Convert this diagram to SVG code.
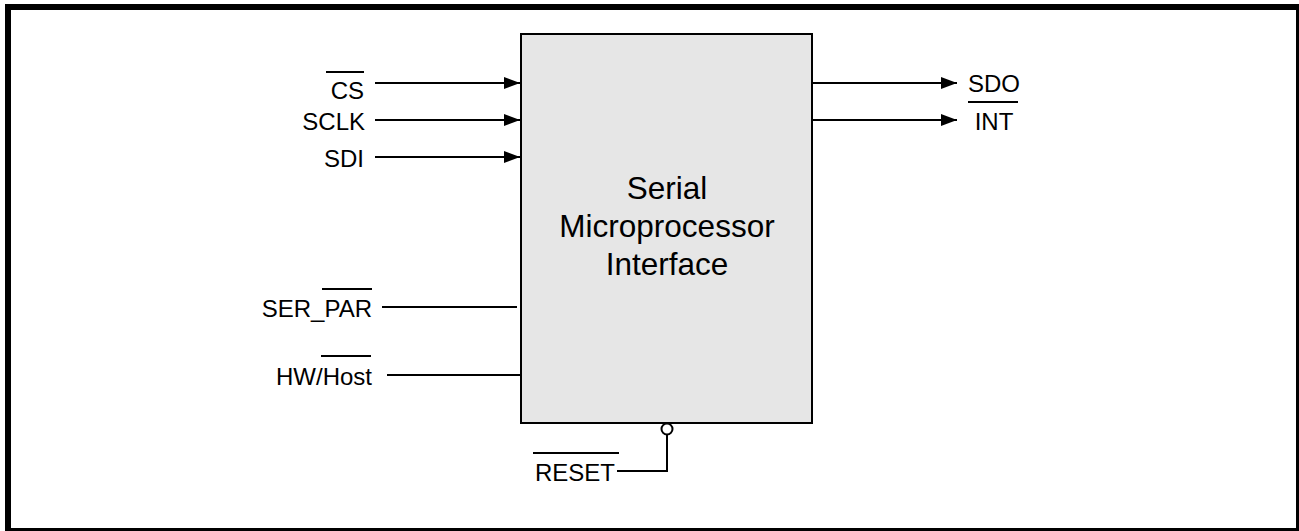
<svg xmlns="http://www.w3.org/2000/svg" width="1299" height="531" viewBox="0 0 1299 531">
<defs>
<style>
text{font-family:"Liberation Sans",Arial,sans-serif;font-size:24px;fill:#000}
.big{font-size:31.5px}
.w{stroke:#000;stroke-width:2;fill:none}
.ob{stroke:#000;stroke-width:2}
</style>
<marker id="ah" markerWidth="16" markerHeight="12" refX="16" refY="6" orient="auto" markerUnits="userSpaceOnUse">
<path d="M0,0 L16,6 L0,12 Z" fill="#000"/>
</marker>
</defs>
<rect width="1299" height="531" fill="#fff"/>
<rect x="8" y="7" width="1291" height="524" fill="none" stroke="#000" stroke-width="6"/>
<g id="block">
<rect x="521" y="34" width="291" height="389" fill="#e6e6e6" stroke="#000" stroke-width="2"/>
<text class="big" x="667" y="199" text-anchor="middle">Serial</text>
<text class="big" x="667" y="237" text-anchor="middle">Microprocessor</text>
<text class="big" x="667" y="275" text-anchor="middle">Interface</text>
</g>
<g id="connectors">
<line class="w" x1="375" y1="83" x2="520" y2="83" marker-end="url(#ah)"/>
<line class="w" x1="375" y1="120" x2="520" y2="120" marker-end="url(#ah)"/>
<line class="w" x1="375" y1="157" x2="520" y2="157" marker-end="url(#ah)"/>
<line class="w" x1="812" y1="83" x2="957" y2="83" marker-end="url(#ah)"/>
<line class="w" x1="812" y1="120" x2="957" y2="120" marker-end="url(#ah)"/>
<line class="w" x1="382" y1="307" x2="517" y2="307"/>
<line class="w" x1="387" y1="375" x2="521" y2="375"/>
<polyline class="w" points="617,471 667,471 667,435"/>
<circle cx="667" cy="429" r="5.5" fill="#fff" stroke="#000" stroke-width="2"/>
</g>
<g id="label-cs">
<text x="364" y="99" text-anchor="end">CS</text>
<line class="ob" x1="326" y1="72" x2="364" y2="72"/>
</g>
<g id="label-sclk"><text x="365" y="130" text-anchor="end">SCLK</text></g>
<g id="label-sdi"><text x="364" y="167" text-anchor="end">SDI</text></g>
<g id="label-sdo"><text x="994" y="92" text-anchor="middle">SDO</text></g>
<g id="label-int">
<text x="994" y="130" text-anchor="middle">INT</text>
<line class="ob" x1="968" y1="102" x2="1018" y2="102"/>
</g>
<g id="label-serpar">
<text x="372" y="317" text-anchor="end">SER_PAR</text>
<line class="ob" x1="322" y1="289" x2="372" y2="289"/>
</g>
<g id="label-hwhost">
<text x="372" y="385" text-anchor="end">HW/Host</text>
<line class="ob" x1="321" y1="356" x2="371" y2="356"/>
</g>
<g id="label-reset">
<text x="615" y="481" text-anchor="end">RESET</text>
<line class="ob" x1="533" y1="453" x2="619" y2="453"/>
</g>
</svg>
